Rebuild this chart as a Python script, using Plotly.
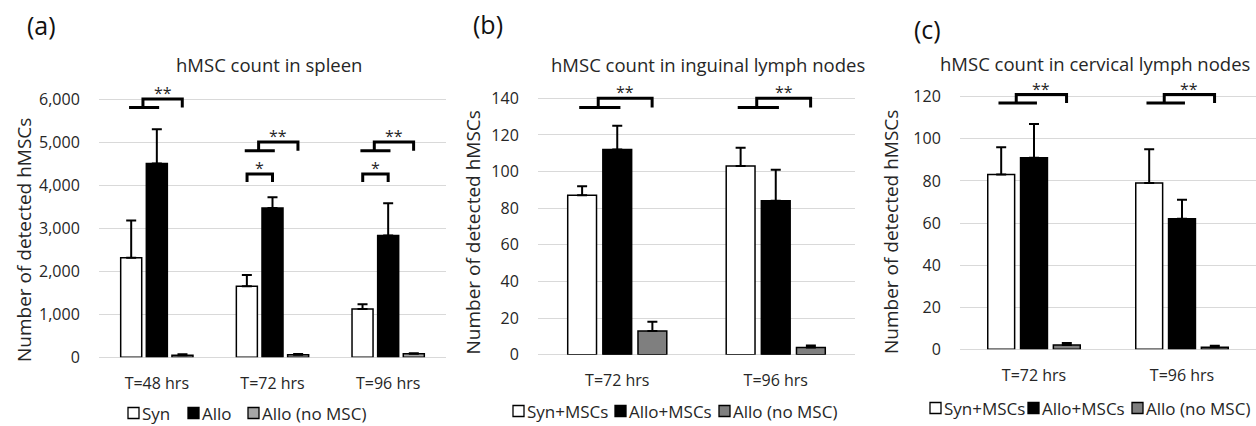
import plotly.graph_objects as go

W, H = 1256, 426
FONT = "Open Sans"
TXT = "#262626"

# ---------------- data ----------------
# (a) spleen
a_cats = ["T=48 hrs", "T=72 hrs", "T=96 hrs"]
a_syn = [2310, 1650, 1120]
a_syn_err = [870, 260, 110]
a_allo = [4500, 3470, 2830]
a_allo_err = [800, 245, 750]
a_nomsc = [50, 60, 80]
a_nomsc_err = [20, 15, 15]
a_yticks = [0, 1000, 2000, 3000, 4000, 5000, 6000]

# (b) inguinal lymph nodes
b_cats = ["T=72 hrs", "T=96 hrs"]
b_syn = [87, 103]
b_syn_err = [5, 10]
b_allo = [112, 84]
b_allo_err = [13, 17]
b_nomsc = [13, 4]
b_nomsc_err = [5, 1]
b_yticks = [0, 20, 40, 60, 80, 100, 120, 140]

# (c) cervical lymph nodes
c_cats = ["T=72 hrs", "T=96 hrs"]
c_syn = [83, 79]
c_syn_err = [13, 16]
c_allo = [91, 62]
c_allo_err = [16, 9]
c_nomsc = [2, 1]
c_nomsc_err = [1, 0.7]
c_yticks = [0, 20, 40, 60, 80, 100, 120]

# significance brackets: (category index, low y, high y, label, kind)
a_sig = [(0, 5800, 6000, "**", "pair"), (1, 4800, 5000, "**", "pair"), (1, 4070, 4260, "*", "single"),
         (2, 4800, 5000, "**", "pair"), (2, 4070, 4260, "*", "single")]
b_sig = [(0, 135, 140, "**", "pair"), (1, 135, 140, "**", "pair")]
c_sig = [(0, 117, 121, "**", "pair"), (1, 117, 121, "**", "pair")]

names_a = ["Syn", "Allo", "Allo (no MSC)"]
names_bc = ["Syn+MSCs", "Allo+MSCs", "Allo (no MSC)"]
y_title = "Number of detected hMSCs"


def px2x(p):
    return p / W


def px2y(p):
    return 1 - p / H


fig = go.Figure()

panels = [
    dict(ax="", cats=a_cats, vals=[a_syn, a_allo, a_nomsc], errs=[a_syn_err, a_allo_err, a_nomsc_err],
         names=names_a, fills=["white", "black", "#a6a6a6"],
         xdom=(99, 446), y0px=357.3, pxper=0.04305, yrange=[0, 6150], ticks=a_yticks, fmt=",",
         sig=a_sig, title="hMSC count in spleen", tpos=(269, 65), label="(a)", lpos=(41, 25),
         ytpos=(24, 240), leg_boxes=[128, 188, 248], leg_y=413),
    dict(ax="2", cats=b_cats, vals=[b_syn, b_allo, b_nomsc], errs=[b_syn_err, b_allo_err, b_nomsc_err],
         names=names_bc, fills=["white", "black", "#7f7f7f"],
         xdom=(538, 855), y0px=354.7, pxper=1.8315, yrange=[0, 143], ticks=b_yticks, fmt="",
         sig=b_sig, title="hMSC count in inguinal lymph nodes", tpos=(708, 65), label="(b)", lpos=(488, 24),
         ytpos=(472.5, 233), leg_boxes=[513, 615, 719], leg_y=411),
    dict(ax="3", cats=c_cats, vals=[c_syn, c_allo, c_nomsc], errs=[c_syn_err, c_allo_err, c_nomsc_err],
         names=names_bc, fills=["white", "black", "#7f7f7f"],
         xdom=(960, 1256), y0px=349.3, pxper=2.105, yrange=[0, 123], ticks=c_yticks, fmt="",
         sig=c_sig, title="hMSC count in cervical lymph nodes", tpos=(1095, 63), label="(c)", lpos=(927, 29),
         ytpos=(891, 232), leg_boxes=[930, 1028, 1132], leg_y=408),
]

shapes = []
annotations = []
layout_axes = {}

for p in panels:
    xa = "x" + p["ax"]
    ya = "y" + p["ax"]
    for vals, errs, name, fill in zip(p["vals"], p["errs"], p["names"], p["fills"]):
        fig.add_trace(go.Bar(
            x=p["cats"], y=vals, name=name, xaxis=xa, yaxis=ya, showlegend=False,
            marker=dict(color=fill, line=dict(color="black", width=1.5)),
            error_y=dict(type="data", symmetric=False, array=errs, arrayminus=[0] * len(errs),
                         color="black", thickness=2, width=5),
        ))
    top_px = p["y0px"] - p["yrange"][1] * p["pxper"]
    ydom = [px2y(p["y0px"]), px2y(top_px)]
    xdom = [px2x(p["xdom"][0]), min(1.0, px2x(p["xdom"][1]))]
    layout_axes["xaxis" + p["ax"]] = dict(
        domain=xdom, anchor=ya, type="category", showgrid=False, zeroline=False, showline=False,
        automargin=False, ticks="outside", ticklen=11, tickcolor="rgba(0,0,0,0)",
        tickfont=dict(family=FONT, size=16, color=TXT),
    )
    layout_axes["yaxis" + p["ax"]] = dict(
        domain=ydom, anchor=xa, range=p["yrange"], tickvals=p["ticks"], tickformat=p["fmt"],
        showgrid=True, gridcolor="#d9d9d9", gridwidth=1, zeroline=True, zerolinecolor="#d9d9d9",
        zerolinewidth=1, showline=False, ticks="outside", ticklen=15, tickcolor="rgba(0,0,0,0)",
        automargin=False, tickfont=dict(family=FONT, size=16, color=TXT),
    )
    # significance brackets
    for (ci, ylo, yhi, lab, kind) in p["sig"]:
        if kind == "pair":
            path = (f"M{ci-0.24},{ylo} L{ci+0.02},{ylo} M{ci-0.12},{ylo} L{ci-0.12},{yhi} "
                    f"L{ci+0.22},{yhi} L{ci+0.22},{ylo}")
            tx = ci + 0.05
        else:
            path = f"M{ci-0.22},{ylo} L{ci-0.22},{yhi} L{ci},{yhi} L{ci},{ylo}"
            tx = ci - 0.11
        shapes.append(dict(type="path", xref=xa, yref=ya, path=path,
                           line=dict(color="black", width=3)))
        annotations.append(dict(x=tx, y=yhi, xref=xa, yref=ya, text=lab, showarrow=False,
                                xanchor="center", yanchor="middle", yshift=6,
                                font=dict(family=FONT, size=16, color=TXT)))
    # panel title, panel label, y-axis title
    annotations.append(dict(x=px2x(p["tpos"][0]), y=px2y(p["tpos"][1]), xref="paper", yref="paper",
                            text=p["title"], showarrow=False, xanchor="center", yanchor="middle",
                            font=dict(family=FONT, size=18.5, color=TXT)))
    annotations.append(dict(x=px2x(p["lpos"][0]), y=px2y(p["lpos"][1]), xref="paper", yref="paper",
                            text=p["label"], showarrow=False, xanchor="center", yanchor="middle",
                            font=dict(family=FONT, size=25, color="#111")))
    annotations.append(dict(x=px2x(p["ytpos"][0]), y=px2y(p["ytpos"][1]), xref="paper", yref="paper",
                            text=y_title, textangle=-90, showarrow=False, xanchor="center",
                            yanchor="middle", font=dict(family=FONT, size=19, color=TXT)))
    # legend (box + text per series)
    yc = p["leg_y"]
    for bl, name, fill in zip(p["leg_boxes"], p["names"], p["fills"]):
        shapes.append(dict(type="rect", xref="paper", yref="paper",
                           x0=px2x(bl), x1=px2x(bl + 11), y0=px2y(yc + 5.5), y1=px2y(yc - 5.5),
                           fillcolor=fill, line=dict(color="black", width=1.3)))
        annotations.append(dict(x=px2x(bl + 12), y=px2y(yc), xref="paper", yref="paper", text=name,
                                showarrow=False, xanchor="left", yanchor="middle",
                                font=dict(family=FONT, size=17, color=TXT)))

fig.update_layout(
    width=W, height=H, margin=dict(l=0, r=0, t=0, b=0, autoexpand=False),
    paper_bgcolor="white", plot_bgcolor="white", showlegend=False,
    barmode="group", bargap=0.335, bargroupgap=0.18,
    shapes=shapes, annotations=annotations,
    **layout_axes,
)

fig.write_html("out.html", config={"displayModeBar": False},
               post_script="document.body.style.margin='0';document.body.style.overflow='hidden';")
